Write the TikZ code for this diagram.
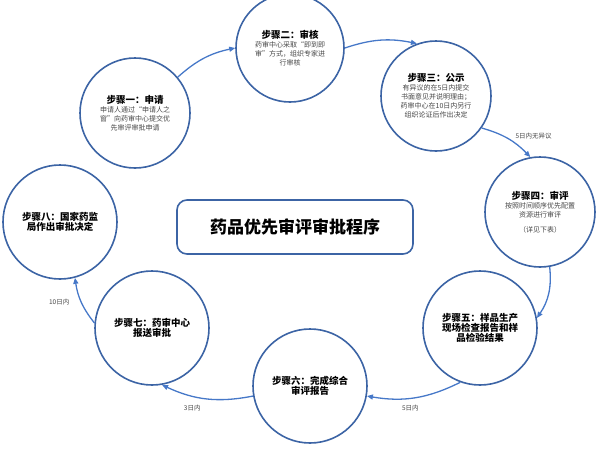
\documentclass[tikz,border=0pt]{standalone}
\usepackage{fontspec}
\newfontfamily\cjk{Noto Sans CJK SC}
\usetikzlibrary{arrows.meta}
\definecolor{ring}{RGB}{60,100,165}
\definecolor{arr}{RGB}{70,120,200}
\definecolor{txt}{RGB}{70,70,70}
\tikzset{
 stepc/.style={circle,draw=ring,line width=1.6pt,minimum size=110pt,inner sep=0pt,align=center,font=\cjk\fontsize{7}{9}\selectfont,text=txt},
 conn/.style={draw=arr,line width=1.3pt,-{Triangle[length=6pt,width=5pt]}},
 lab/.style={font=\cjk\fontsize{6.5}{8}\selectfont,text=txt}
}
\newcommand{\ttl}[1]{{\fontsize{9.5}{12}\selectfont\bfseries\color{black}#1}}
\begin{document}
\begin{tikzpicture}[x=1pt,y=-1pt]
\useasboundingbox (0,0) rectangle (607,448);
\node[stepc] (s1) at (135,113) {\ttl{步骤一：申请}\\申请人通过“申请人之\\窗”向药审中心提交优\\先审评审批申请};
\node[stepc,minimum size=108pt] (s2) at (290,48) {\ttl{步骤二：审核}\\药审中心采取“即到即\\审”方式，组织专家进\\行审核};
\node[stepc] (s3) at (436,96) {\ttl{步骤三：公示}\\有异议的在5日内提交\\书面意见并说明理由；\\药审中心在10日内另行\\组织论证后作出决定};
\node[stepc] (s4) at (540,212) {\ttl{步骤四：审评}\\按照时间顺序优先配置\\资源进行审评\\[6pt]（详见下表）};
\node[stepc,minimum size=114pt] (s5) at (480,328) {\ttl{步骤五：样品生产}\\\ttl{现场检查报告和样}\\\ttl{品检验结果}};
\node[stepc,minimum size=114pt] (s6) at (310,386) {\ttl{步骤六：完成综合}\\\ttl{审评报告}};
\node[stepc,minimum size=114pt] (s7) at (152,328) {\ttl{步骤七：药审中心}\\\ttl{报送审批}};
\node[stepc,minimum size=114pt] (s8) at (60,222) {\ttl{步骤八：国家药监}\\\ttl{局作出审批决定}};
\node[draw=ring,line width=1.6pt,rounded corners=10pt,minimum width=236pt,minimum height=54pt,font=\cjk\fontsize{17}{20}\selectfont\bfseries] (t) at (295,227) {药品优先审评审批程序};
\draw[conn] (s1.40) to[bend left=15] (s2.west);
\draw[conn] (s2.east) to[bend left=15] (s3.110);
\draw[conn] (s3.-35) to[bend left=15] node[lab,right=8pt,pos=0.4] (l1) {5日内无异议} (s4.100);
\draw[conn] (s4.-80) to[bend left=20] (s5.10);
\draw[conn] (s5.-110) to[bend left=18] node[lab,below=3pt,pos=0.55] (l2) {5日内} (s6.-10);
\draw[conn] (s6.190) to[bend left=18] node[lab,below left=2pt,pos=0.5] (l3) {3日内} (s7.-80);
\draw[conn] (s7.175) to[bend left=15] node[lab,left=8pt,pos=0.5] (l4) {10日内} (s8.-75);
\end{tikzpicture}
\end{document}
